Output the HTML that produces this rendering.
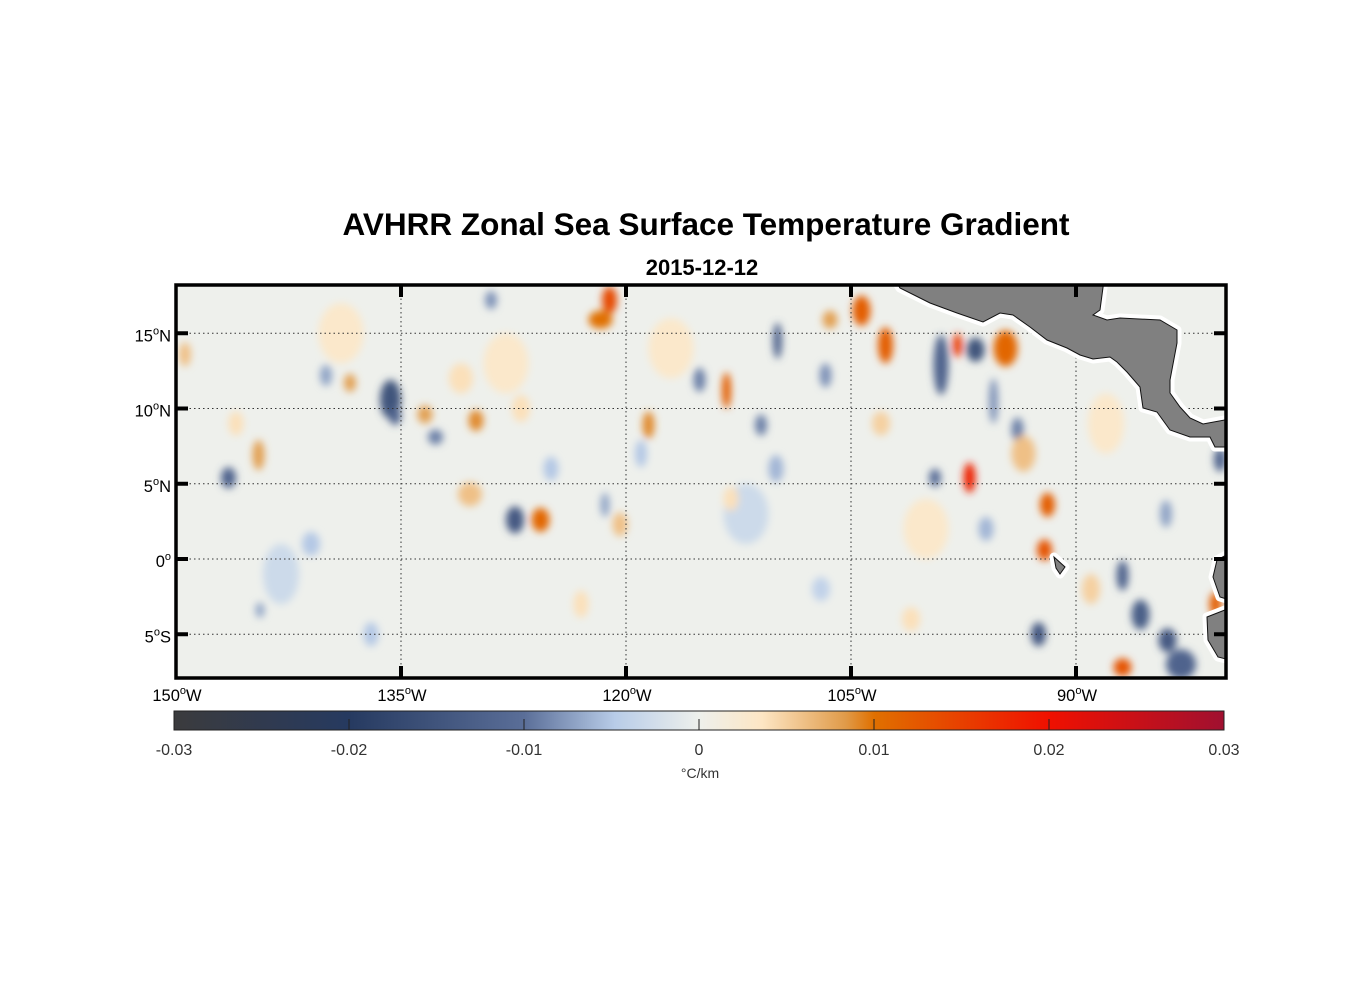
<!DOCTYPE html>
<html><head><meta charset="utf-8"><style>
body{margin:0;background:#fff;}
svg text{font-family:"Liberation Sans",Arial,sans-serif;}
</style></head><body>
<svg id="chart" width="1356" height="1000" viewBox="0 0 1356 1000">
<defs>
<filter id="blur" x="-50%" y="-50%" width="200%" height="200%"><feGaussianBlur stdDeviation="4"/></filter>
<clipPath id="mapclip"><rect x="176" y="285" width="1050" height="393"/></clipPath>
<linearGradient id="cmap" x1="0" x2="1" y1="0" y2="0">
<stop offset="0" stop-color="#3b3b3d"/>
<stop offset="0.1667" stop-color="#263a60"/>
<stop offset="0.3333" stop-color="#5a6e98"/>
<stop offset="0.42" stop-color="#b8cce8"/>
<stop offset="0.5" stop-color="#eef0ec"/>
<stop offset="0.56" stop-color="#fde6c4"/>
<stop offset="0.64" stop-color="#e09a48"/>
<stop offset="0.6667" stop-color="#e07000"/>
<stop offset="0.8333" stop-color="#f01000"/>
<stop offset="1" stop-color="#a01030"/>
</linearGradient>
</defs>
<text x="706" y="235" text-anchor="middle" font-size="31.5" font-weight="bold">AVHRR Zonal Sea Surface Temperature Gradient</text>
<text x="702" y="275" text-anchor="middle" font-size="22" font-weight="bold">2015-12-12</text>
<g clip-path="url(#mapclip)">
<rect x="176" y="285" width="1050" height="393" fill="#eef0ec"/>
<g id="blobs" filter="url(#blur)"></g>
<g id="grid"></g>
<g id="land"></g>
</g>
<rect x="176" y="285" width="1050" height="393" fill="none" stroke="#000" stroke-width="3.5"/>
<g id="ticks"></g>
<g id="colorbar">
<rect x="174" y="711" width="1050" height="19" fill="url(#cmap)" stroke="#222" stroke-width="1"/>
</g>
<text x="700" y="778" text-anchor="middle" font-size="14" fill="#333">°C/km</text>
</svg>
<script>
const lonTicks=[-150,-135,-120,-105,-90];
const lonLabels=['150','135','120','105','90'];
const latTicks=[15,10,5,0,-5];
const latLabels=[['15','N'],['10','N'],['5','N'],['0',''],['5','S']];
const cbTicks=[-0.03,-0.02,-0.01,0,0.01,0.02,0.03];
const cbLabels=['-0.03','-0.02','-0.01','0','0.01','0.02','0.03'];
const blobLon=[-135.7,-146.5,-144.5,-127.4,-125.7,-121.1,-121.7,-129,-133.4,-130,-132.7,-138.4,-140,-109.9,-113.3,-115.1,-118.5,-111,-104.3,-102.7,-99,-97.9,-96.7,-94.7,-97.1,-99.4,-91.9,-92.1,-92.5,-86.9,-85.7,-83.9,-83,-86.9,-80.7,-80.4,-93.9,-106.7,-106.4,-144.4,-120.4,-121.4,-130.4,-149.4,-95.5,-93.5,-128,-139,-112,-100,-88,-117,-143,-135.4,-131,-125,-110,-103,-96,-89,-84,-146,-141,-123,-107,-113,-119,-137,-127,-101,-85];
const blobLat=[10.6,5.4,6.9,2.6,2.6,17.2,15.9,17.2,9.6,9.2,8.1,11.7,12.2,14.5,11.2,11.9,8.9,8.9,16.5,14.2,12.9,14.2,13.9,14.0,5.4,5.4,3.6,0.6,-5,-1.1,-3.7,-5.4,-7.0,-7.2,-3,6.6,8.6,12.2,15.9,-3.4,2.3,3.6,4.3,13.6,10.5,7,13,15,3,2,9,14,-1,9.5,12,6,6,9,2,-2,3,9,1,-3,-2,4,7,-5,10,-4,11];
const blobVal=[-0.015,-0.012,0.008,-0.014,0.011,0.014,0.010,-0.008,0.008,0.009,-0.009,0.008,-0.007,-0.012,0.012,-0.009,0.009,-0.009,0.012,0.012,-0.012,0.016,-0.015,0.011,0.018,-0.010,0.012,0.013,-0.014,-0.012,-0.013,-0.014,-0.012,0.013,0.012,-0.012,-0.009,-0.008,0.008,-0.007,0.006,-0.007,0.006,0.006,-0.008,0.006,0.003,0.003,-0.003,0.003,0.003,0.003,-0.003,-0.012,0.004,-0.005,-0.006,0.005,-0.006,0.005,-0.007,0.004,-0.005,0.004,-0.004,0.004,-0.005,-0.005,0.004,0.004,-0.005];
const blobRx=[0.7,0.5,0.4,0.6,0.6,0.5,0.8,0.4,0.5,0.5,0.5,0.4,0.4,0.3,0.3,0.4,0.4,0.4,0.6,0.5,0.5,0.3,0.6,0.8,0.4,0.4,0.5,0.5,0.5,0.4,0.6,0.6,1,0.6,0.4,0.4,0.4,0.4,0.5,0.3,0.5,0.3,0.8,0.4,0.3,0.8,1.5,1.5,1.5,1.5,1.2,1.5,1.2,0.4,0.8,0.5,0.5,0.6,0.5,0.6,0.4,0.5,0.6,0.5,0.6,0.5,0.4,0.5,0.6,0.6,0.4];
const blobRy=[1.3,0.7,1.0,0.9,0.8,0.9,0.6,0.6,0.6,0.7,0.5,0.6,0.7,1.2,1.2,0.8,0.9,0.7,1.0,1.2,2.0,0.8,0.8,1.2,1.0,0.6,0.8,0.7,0.8,1.0,1.0,0.8,1,0.6,0.8,0.8,0.8,0.8,0.6,0.5,0.8,0.8,0.8,0.8,1.5,1.2,2,2,2,2,2,2,2,0.6,1.0,0.8,0.9,0.8,0.8,1.0,0.9,0.8,0.8,0.9,0.8,0.8,0.9,0.8,0.9,0.8,0.9];
const NS='http://www.w3.org/2000/svg';
const X=lon=>176+(lon+150)*15;
const Y=lat=>559-lat*15.05;
const CB=v=>174+(v+0.03)/0.06*1050;
const stops=[[-0.03,[59,59,61]],[-0.02,[38,58,96]],[-0.01,[90,110,152]],[-0.0048,[184,204,232]],[0,[238,240,236]],[0.0036,[253,230,196]],[0.0084,[224,154,72]],[0.01,[224,112,0]],[0.02,[240,16,0]],[0.03,[160,16,48]]];
function color(v){v=Math.max(-0.03,Math.min(0.03,v));for(let i=0;i<stops.length-1;i++){const a=stops[i],b=stops[i+1];if(v<=b[0]){const t=(v-a[0])/(b[0]-a[0]);return 'rgb('+a[1].map((c,k)=>Math.round(c+(b[1][k]-c)*t)).join(',')+')';}}return 'rgb(160,16,48)';}
function mk(tag,attrs,parent){const e=document.createElementNS(NS,tag);for(const k in attrs)e.setAttribute(k,attrs[k]);parent.appendChild(e);return e;}
const blobs=document.getElementById('blobs');
for(let i=0;i<blobVal.length;i++){
const e=mk('ellipse',{cx:X(blobLon[i]),cy:Y(blobLat[i]),rx:blobRx[i]*15,ry:blobRy[i]*15.05,fill:color(blobVal[i])},blobs);


}
const grid=document.getElementById('grid');
lonTicks.forEach(l=>{if(l>-150)mk('line',{x1:X(l),x2:X(l),y1:285,y2:678,stroke:'#333','stroke-width':1,'stroke-dasharray':'1.5,3'},grid);});
latTicks.forEach(l=>{mk('line',{x1:176,x2:1226,y1:Y(l),y2:Y(l),stroke:'#333','stroke-width':1,'stroke-dasharray':'1.5,3'},grid);});
const land=document.getElementById('land');
const polys=[
[[895,280],[1104,280],[1100,310],[1093,315],[1107,320],[1120,318],[1160,320],[1177,330],[1177,343],[1170,380],[1170,393],[1180,407],[1190,418],[1203,424],[1230,419],[1230,447],[1215,447],[1210,437],[1190,437],[1170,430],[1157,412],[1143,408],[1140,387],[1127,372],[1117,362],[1110,357],[1093,359],[1080,355],[1067,348],[1047,340],[1030,327],[1013,315],[1000,313],[983,322],[957,313],[930,303],[900,288]],
[[1230,553],[1217,560],[1213,577],[1220,597],[1230,600]],
[[1230,608],[1207,617],[1208,640],[1218,657],[1230,660]],
[[1054,557],[1065,567],[1060,574],[1056,568]]];
polys.forEach(p=>{const pts=p.map(q=>q.join(',')).join(' ');
mk('polygon',{points:pts,fill:'#fff',stroke:'#fff','stroke-width':9,'stroke-linejoin':'round'},land);});
polys.forEach(p=>{const pts=p.map(q=>q.join(',')).join(' ');
const e=mk('polygon',{points:pts,fill:'#808080',stroke:'#111','stroke-width':1},land);

});
const ticks=document.getElementById('ticks');
lonTicks.forEach((l,i)=>{
if(l>-150){mk('line',{x1:X(l),x2:X(l),y1:285,y2:297,stroke:'#000','stroke-width':4},ticks);mk('line',{x1:X(l),x2:X(l),y1:666,y2:678,stroke:'#000','stroke-width':4},ticks);}
const t=mk('text',{x:X(l)+1,y:701,'text-anchor':'middle','font-size':16.5},ticks);
t.innerHTML=lonLabels[i]+'<tspan dy="-7" font-size="11">o</tspan><tspan dy="7">W</tspan>';


});
latTicks.forEach((l,i)=>{
mk('line',{x1:176,x2:188,y1:Y(l),y2:Y(l),stroke:'#000','stroke-width':4},ticks);
mk('line',{x1:1214,x2:1226,y1:Y(l),y2:Y(l),stroke:'#000','stroke-width':4},ticks);
const t=mk('text',{x:171,y:Y(l)+8,'text-anchor':'end','font-size':16.5},ticks);
t.innerHTML=latLabels[i][0]+'<tspan dy="-7" font-size="11">o</tspan><tspan dy="7">'+latLabels[i][1]+'</tspan>';


});
const cb=document.getElementById('colorbar');
cbTicks.forEach((v,i)=>{
if(i>0&&i<cbTicks.length-1)mk('line',{x1:CB(v),x2:CB(v),y1:719,y2:730,stroke:'#222','stroke-width':1},cb);
const t=mk('text',{x:CB(v),y:755,'text-anchor':'middle','font-size':16,fill:'#333'},cb);
t.textContent=cbLabels[i];


});
</script>
</body></html>
